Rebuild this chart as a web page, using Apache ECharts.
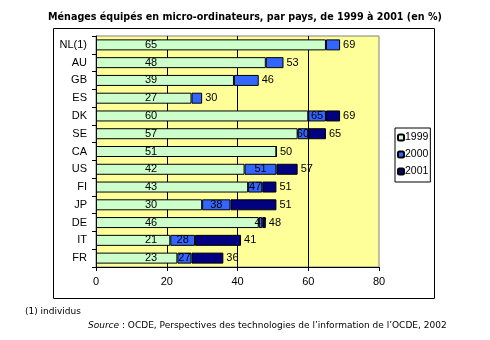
<!DOCTYPE html>
<html><head><meta charset="utf-8">
<script src="https://cdn.jsdelivr.net/npm/echarts@6/dist/echarts.min.js"></script>
<style>html,body{margin:0;padding:0;background:#fff}#c{width:490px;height:340px}</style>
</head><body><div id="c"></div>
<script>
const categories = ['NL(1)','AU','GB','ES','DK','SE','CA','US','FI','JP','DE','IT','FR'];
const v1999 = [65,48,39,27,60,57,51,42,43,30,46,21,23];
const v2000 = [69,53,46,30,65,60,50,51,47,38,47,28,27];
const v2001 = [null,null,null,null,69,65,null,57,51,51,48,41,36];
const xTicks = [0,20,40,60,80];

const chart = echarts.init(document.getElementById('c'));
const lblFont = {fontFamily:'Liberation Sans', fontSize:11, color:'#000'};
const d2000 = v2000.map((v,i)=>({
  value: Math.max(0, v - v1999[i]),
  label: {position: v2001[i]==null ? 'right' : 'inside', distance: 3}
}));
const d2001 = v2001.map((v,i)=> v==null ? '-' : (v - Math.max(v1999[i], v2000[i])));

chart.setOption({
  animation:false,
  title:{text:'Ménages équipés en micro-ordinateurs, par pays, de 1999 à 2001 (en %)', left:'center', top:7,
    textStyle:{fontFamily:'DejaVu Sans', fontSize:9.6, fontWeight:'bold', color:'#000'}},
  legend:{orient:'vertical', left:395, top:128, itemWidth:6, itemHeight:6, itemGap:6,
    padding:[4,2,5,2], borderColor:'#000', borderWidth:1, data:['1999','2000','2001'],
    textStyle:{fontFamily:'Liberation Sans', fontSize:10.5, color:'#000', padding:[0,0,0,-4]}},
  grid:{left:96, right:111, top:36, bottom:73, show:true, backgroundColor:'#FFFF99', borderColor:'#808080', borderWidth:1},
  xAxis:{type:'value', min:xTicks[0], max:xTicks[xTicks.length-1], interval:20,
    axisLine:{show:true, lineStyle:{color:'#000'}}, axisTick:{show:true, length:4, lineStyle:{color:'#000'}},
    axisLabel:{margin:9, fontFamily:'Liberation Sans', fontSize:11, color:'#000'},
    splitLine:{show:true, showMaxLine:false, showMinLine:false, lineStyle:{color:'#000', width:1}}},
  yAxis:{type:'category', inverse:true, data:categories,
    axisLine:{show:true, lineStyle:{color:'#000'}}, axisTick:{show:true, length:4, alignWithLabel:false, lineStyle:{color:'#000'}},
    axisLabel:{margin:9, fontFamily:'Liberation Sans', fontSize:11, color:'#000'}},
  series:[
    {name:'1999', type:'bar', stack:'a', data:v1999, barWidth:11,
      itemStyle:{color:'#CCFFCC', borderColor:'#000', borderWidth:1},
      label:{show:true, position:[55,'50%'], align:'center', verticalAlign:'middle', ...lblFont}},
    {name:'2000', type:'bar', stack:'a', data:d2000, barWidth:11,
      itemStyle:{color:'#3366FF', borderColor:'#000', borderWidth:1},
      label:{show:true, ...lblFont, formatter:p=>String(v2000[p.dataIndex])}},
    {name:'2001', type:'bar', stack:'a', data:d2001, barWidth:11,
      itemStyle:{color:'#000080', borderColor:'#000', borderWidth:1},
      label:{show:true, position:'right', distance:3, ...lblFont, formatter:p=>String(v2001[p.dataIndex])}}
  ],
  graphic:[
    {type:'rect', shape:{x:53.5, y:28.5, width:381, height:270}, style:{fill:null, stroke:'#000', lineWidth:1}, silent:true, z:-1},
    {type:'text', left:25, top:307, style:{text:'(1) individus', font:'9px "DejaVu Sans"', fill:'#000'}},
    {type:'text', left:88, top:321, style:{text:'{i|Source} : OCDE, Perspectives des technologies de l\u2019information de l\u2019OCDE, 2002',
      font:'9px "DejaVu Sans"', fill:'#000', rich:{i:{fontStyle:'italic', fontFamily:'DejaVu Sans', fontSize:9}}}}
  ]
});
</script></body></html>
